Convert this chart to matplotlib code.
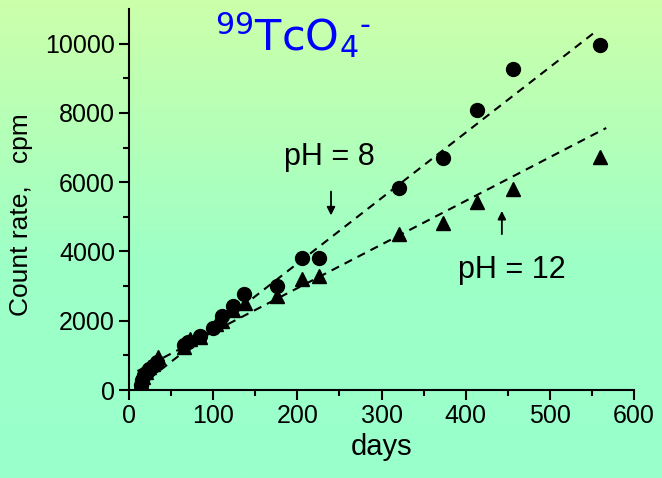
import numpy as np
import matplotlib.pyplot as plt
from matplotlib.colors import LinearSegmentedColormap

plt.rcParams['font.family'] = ['Liberation Sans', 'DejaVu Sans']
plt.rcParams['mathtext.fontset'] = 'dejavusans'

# pH = 8 (circles)
days_ph8 = [14, 16, 18, 21, 24, 28, 33, 65, 70, 84, 100, 110, 124, 137, 176, 205, 226, 321, 373, 413, 456, 560]
cpm_ph8 = [150, 300, 420, 520, 620, 700, 800, 1300, 1400, 1560, 1800, 2150, 2420, 2760, 3000, 3800, 3800, 5830, 6700, 8080, 9280, 9950]

# pH = 12 (triangles)
days_ph12 = [14, 17, 20, 24, 28, 35, 65, 72, 84, 103, 110, 124, 138, 176, 205, 226, 321, 373, 413, 456, 560]
cpm_ph12 = [220, 380, 520, 650, 760, 950, 1250, 1460, 1520, 1900, 2000, 2320, 2500, 2720, 3200, 3300, 4500, 4820, 5430, 5800, 6720]

# linear fits (slope, intercept, x range)
fit8 = (18.9, -130, 10, 552)
fit12 = (12.6, 420, 10, 567)

fig = plt.figure(figsize=(6.62, 4.78), dpi=100)

# background gradient
bg = fig.add_axes([0, 0, 1, 1], zorder=-10)
cmap = LinearSegmentedColormap.from_list('bg', [(0, '#99ffcc'), (0.45, '#9dffc6'), (1, '#ccffaa')])
grad = np.linspace(0, 1, 256).reshape(-1, 1)
bg.imshow(grad, aspect='auto', cmap=cmap, origin='lower', extent=[0, 1, 0, 1])
bg.axis('off')

ax = fig.add_axes([129/662, 1 - 390/478, (634 - 129)/662, (390 - 9)/478])
ax.patch.set_alpha(0)

ax.plot(days_ph8, cpm_ph8, 'o', color='black', markersize=10)
ax.plot(days_ph12, cpm_ph12, '^', color='black', markersize=10)

for s, b, x0, x1 in (fit8, fit12):
    xs = np.array([x0, x1])
    ax.plot(xs, s * xs + b, '--', color='black', lw=1.5, dashes=(4, 3))

ax.set_xlim(0, 600)
ax.set_ylim(0, 11000)
ax.set_xticks(np.arange(0, 601, 100))
ax.set_xticks(np.arange(50, 600, 100), minor=True)
ax.set_yticks(np.arange(0, 10001, 2000))
ax.set_yticks(np.arange(1000, 11000, 2000), minor=True)
ax.spines['top'].set_visible(False)
ax.spines['right'].set_visible(False)
ax.spines['left'].set_linewidth(1.5)
ax.spines['bottom'].set_linewidth(1.5)
ax.tick_params(which='major', length=7, width=1.5, labelsize=18, pad=3)
ax.tick_params(which='minor', length=4, width=1.5)

ax.set_xlabel('days', fontsize=21, labelpad=4)
ax.set_ylabel('Count rate,   cpm', fontsize=19)
ax.yaxis.set_label_coords(-0.19, 0.46)

ax.text(195, 10250, r'$^{99}$TcO$_4$$^{\text{-}}$', color='#0000ff', fontsize=31, ha='center', va='center',
        family='DejaVu Sans')

ax.text(238, 6720, 'pH = 8', fontsize=22, ha='center', va='center')
ax.annotate('', xy=(240, 4960), xytext=(240, 5810),
            arrowprops=dict(arrowstyle='-|>', color='black', lw=1.3, mutation_scale=12))
ax.text(455, 3460, 'pH = 12', fontsize=22, ha='center', va='center')
ax.annotate('', xy=(443, 5250), xytext=(443, 4420),
            arrowprops=dict(arrowstyle='-|>', color='black', lw=1.3, mutation_scale=12))

fig.savefig('out.png', dpi=100)
